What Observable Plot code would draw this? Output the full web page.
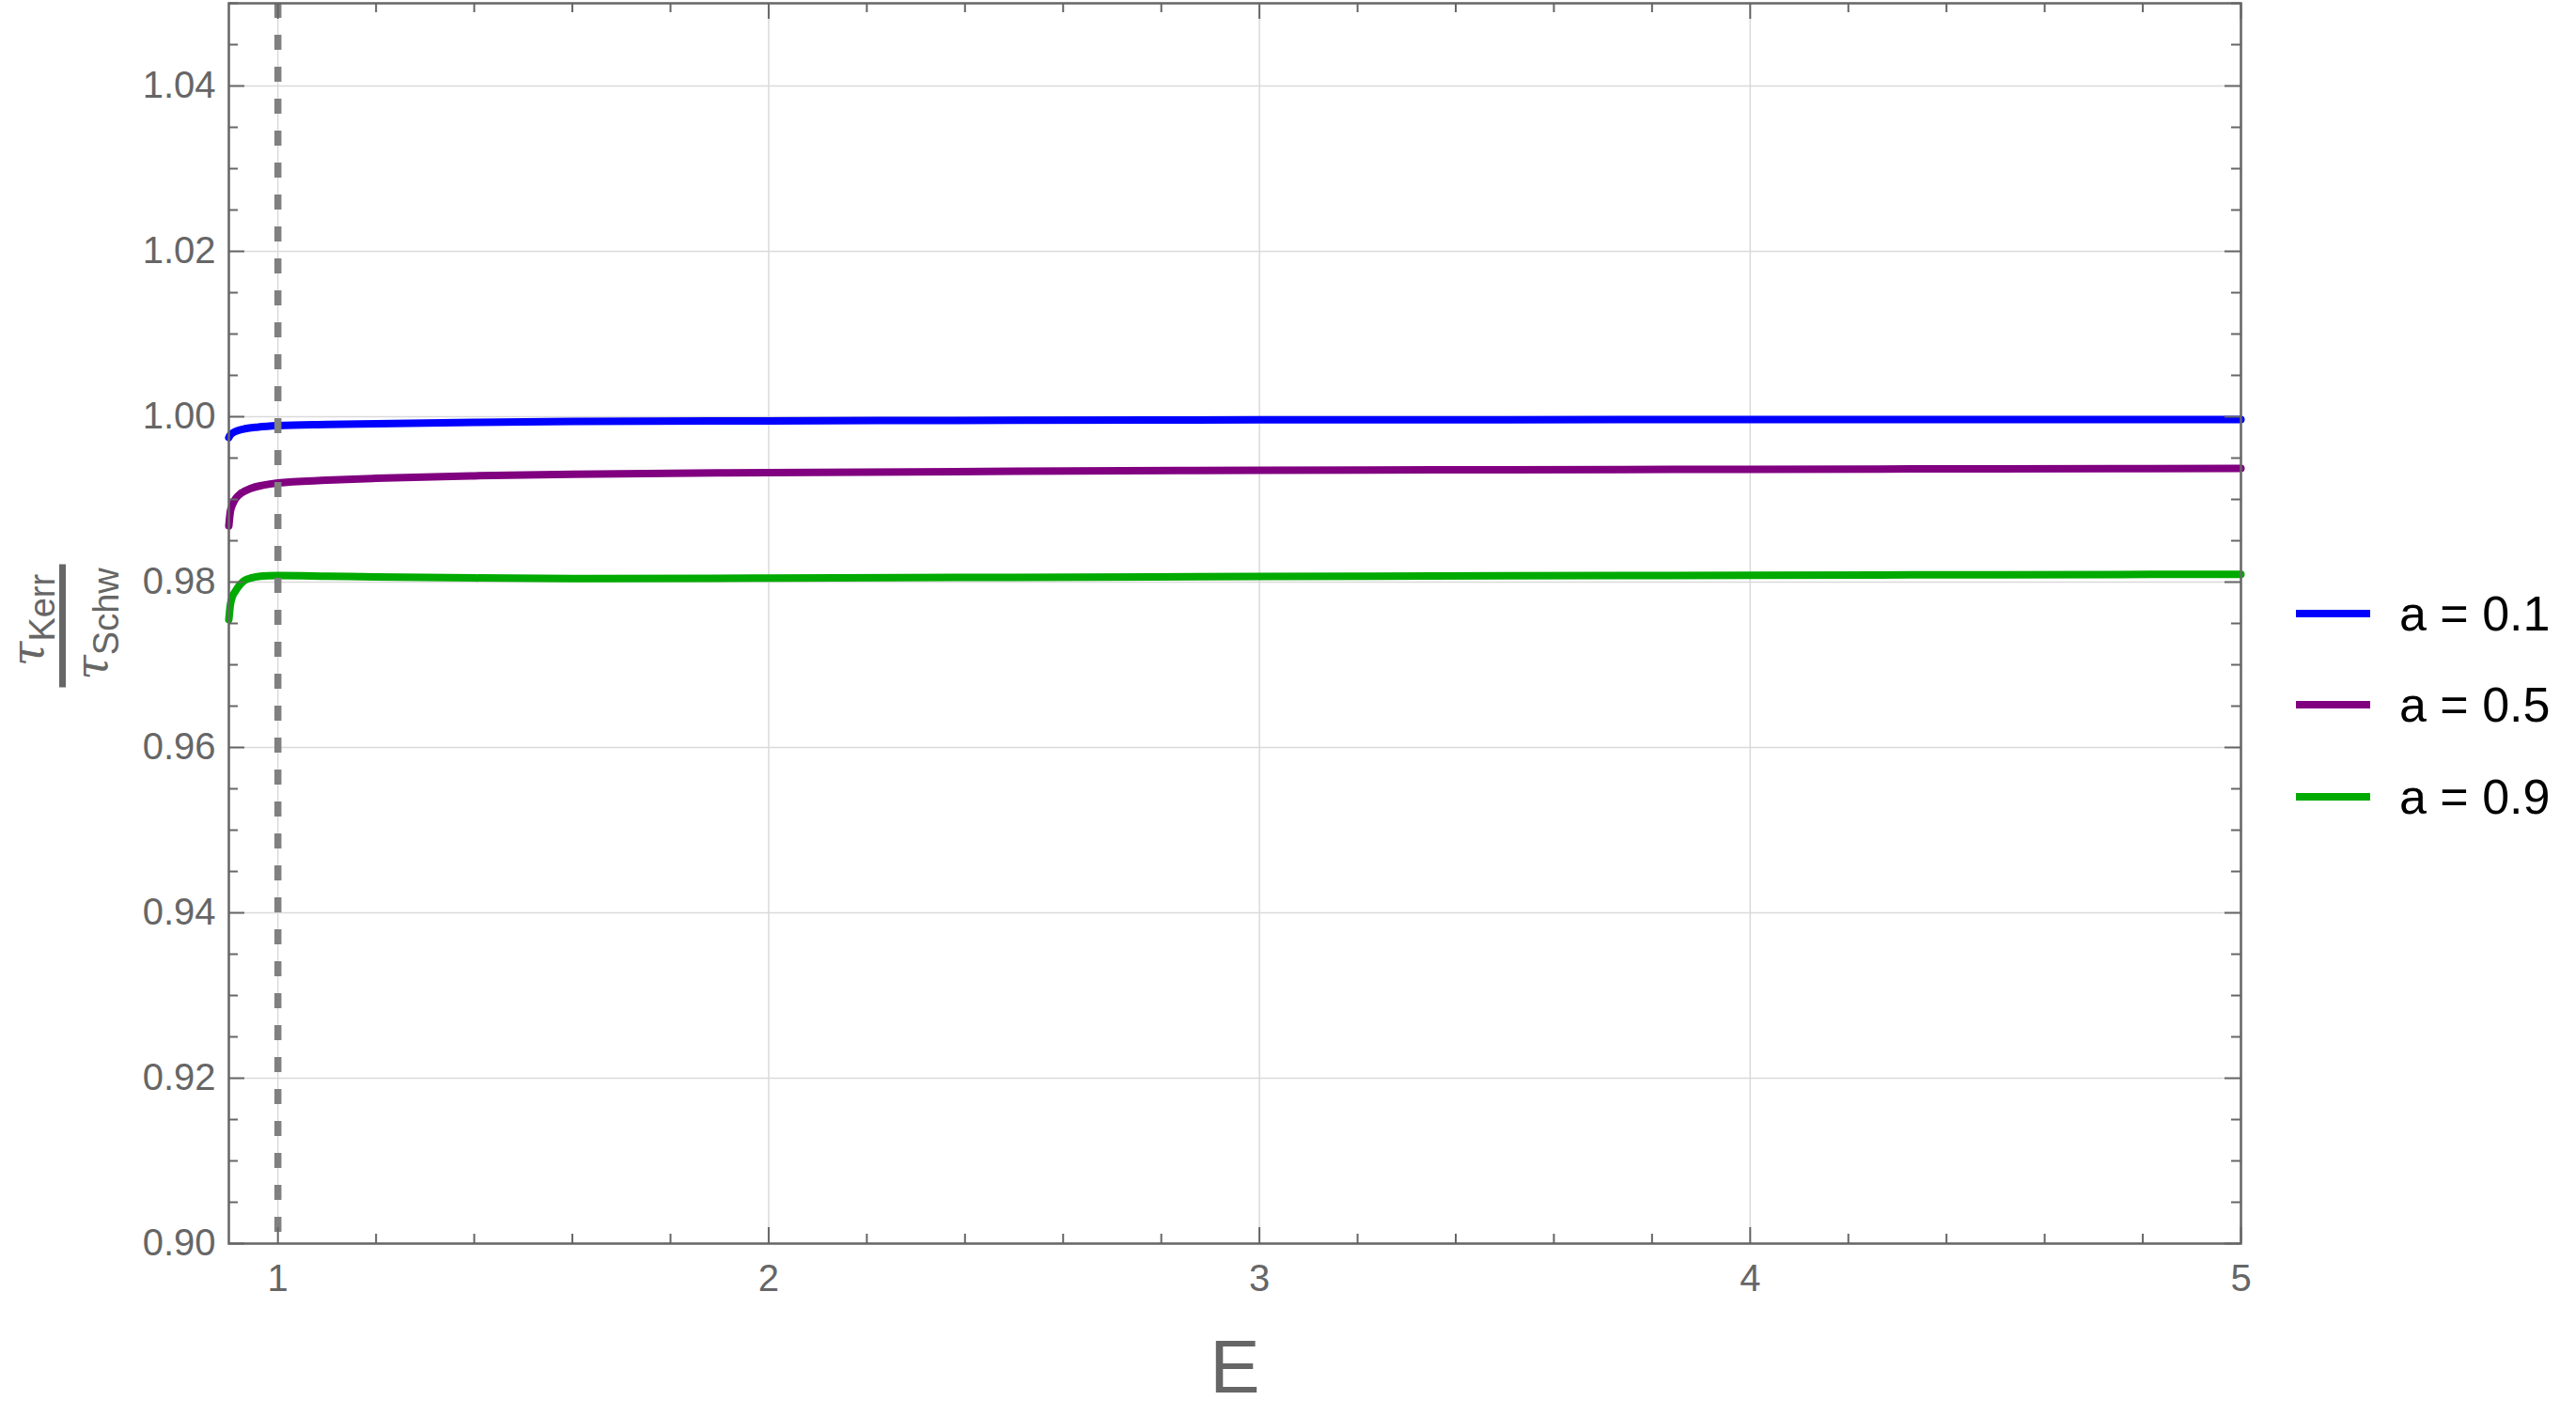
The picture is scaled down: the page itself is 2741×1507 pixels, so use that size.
<!DOCTYPE html>
<html>
<head>
<meta charset="utf-8">
<script src="https://cdn.jsdelivr.net/npm/d3@7"></script>
<script src="https://cdn.jsdelivr.net/npm/@observablehq/plot@0.6"></script>
<style>
  html, body { margin: 0; padding: 0; background: #fff; }
  #wrap { position: relative; width: 2741px; height: 1507px; font-family: "Liberation Sans", Arial, sans-serif; }
  #legend { position: absolute; left: 2443px; top: 604px; }
  #legend .row { display: flex; align-items: center; height: 97.5px; }
  #legend .sw { width: 79px; height: 8px; margin-right: 31px; }
  #legend .lt { font-size: 52px; color: #000; white-space: pre; }
</style>
</head>
<body>
<div id="wrap"></div>
<script>
// ---- data ----
const seriesLabels = ["a = 0.1", "a = 0.5", "a = 0.9"];
const seriesColors = ["#0000ff", "#800080", "#00aa00"];

const E_a01 = [0.9, 0.903, 0.907, 0.915, 0.933, 0.96, 1.0, 1.1, 1.2, 1.4, 1.6, 2.0, 2.5, 3.0, 3.5, 4.0, 4.5, 5.0];
const tau_a01 = [0.99747, 0.99780, 0.99800, 0.99825, 0.99855, 0.99875, 0.99891, 0.99905, 0.99915, 0.99932, 0.99943, 0.99950, 0.99957, 0.99962, 0.99964, 0.99965, 0.99966, 0.99967];

const E_a05 = [0.9, 0.903, 0.907, 0.913, 0.925, 0.945, 0.97, 1.0, 1.1, 1.2, 1.4, 1.6, 2.0, 2.5, 3.0, 3.5, 4.0, 4.5, 5.0];
const tau_a05 = [0.98680, 0.98850, 0.98930, 0.99002, 0.99075, 0.99134, 0.99172, 0.99199, 0.99232, 0.99255, 0.99285, 0.99305, 0.99325, 0.99340, 0.99352, 0.99359, 0.99365, 0.99370, 0.99375];

const E_a09 = [0.9, 0.903, 0.907, 0.913, 0.922, 0.932, 0.945, 0.9645, 0.98, 1.0, 1.1, 1.2, 1.4, 1.6, 2.0, 2.5, 3.0, 3.5, 4.0, 4.5, 5.0];
const tau_a09 = [0.97546, 0.97720, 0.97820, 0.97886, 0.97965, 0.98019, 0.98050, 0.98072, 0.98078, 0.98080, 0.98072, 0.98062, 0.98050, 0.98044, 0.98048, 0.98058, 0.98068, 0.98076, 0.98083, 0.98089, 0.98095];

const xMajorTicks = [1, 2, 3, 4, 5];
const yMajorTicks = [0.90, 0.92, 0.94, 0.96, 0.98, 1.00, 1.02, 1.04];
const xTickLabels = ["1", "2", "3", "4", "5"];
const yTickLabels = ["0.90", "0.92", "0.94", "0.96", "0.98", "1.00", "1.02", "1.04"];
const markerE = [1];
const xAxisLabel = "E";
const yLabelSymbol = "τ";
const yLabelNum = "Kerr";
const yLabelDen = "Schw";

// minor ticks (positions between majors)
const xMinorTicks = d3.range(1.2, 5.0, 0.2).map(v => +v.toFixed(1)).filter(v => !Number.isInteger(v));
const yMinorTicks = d3.range(0.905, 1.05, 0.005).map(v => +v.toFixed(3)).filter(v => Math.round(v * 1000) % 20 !== 0);

// ---- layout ----
const W = 2741, H = 1507;
const mL = 243, mR = W - 2384, mT = 3, mB = H - 1323;
const innerW = W - mL - mR, innerH = H - mT - mB;
const grey = "#666666";

const toRows = (xs, ys) => xs.map((x, i) => ({E: x, r: ys[i]}));
const series = [toRows(E_a01, tau_a01), toRows(E_a05, tau_a05), toRows(E_a09, tau_a09)];

const chart = Plot.plot({
  width: W, height: H,
  marginLeft: mL, marginRight: mR, marginTop: mT, marginBottom: mB,
  style: {fontFamily: "'Liberation Sans', Arial, sans-serif", background: "#fff", overflow: "visible"},
  x: {domain: [0.9, 5], axis: null},
  y: {domain: [0.9, 1.05], axis: null},
  marks: [
    Plot.gridX(xMajorTicks, {stroke: "#dadada", strokeOpacity: 1, strokeWidth: 1.5}),
    Plot.gridY(yMajorTicks, {stroke: "#dadada", strokeOpacity: 1, strokeWidth: 1.5}),
    ...series.map((s, i) => Plot.line(s, {x: "E", y: "r", stroke: seriesColors[i], strokeWidth: 8, curve: "monotone-x"})),
    Plot.ruleX(markerE, {stroke: "#808080", strokeWidth: 7.5, strokeDasharray: "16,18"}),
    // inward ticks, Mathematica style
    Plot.tickY(yMajorTicks, {y: d => d, stroke: grey, strokeWidth: 2, insetRight: innerW - 17}),
    Plot.tickY(yMajorTicks, {y: d => d, stroke: grey, strokeWidth: 2, insetLeft: innerW - 17}),
    Plot.tickY(yMinorTicks, {y: d => d, stroke: grey, strokeWidth: 2, insetRight: innerW - 10}),
    Plot.tickY(yMinorTicks, {y: d => d, stroke: grey, strokeWidth: 2, insetLeft: innerW - 10}),
    Plot.tickX(xMajorTicks, {x: d => d, stroke: grey, strokeWidth: 2, insetTop: innerH - 17}),
    Plot.tickX(xMajorTicks, {x: d => d, stroke: grey, strokeWidth: 2, insetBottom: innerH - 17}),
    Plot.tickX(xMinorTicks, {x: d => d, stroke: grey, strokeWidth: 2, insetTop: innerH - 10}),
    Plot.tickX(xMinorTicks, {x: d => d, stroke: grey, strokeWidth: 2, insetBottom: innerH - 10}),
    Plot.frame({stroke: grey, strokeWidth: 2.5}),
    Plot.axisX({ticks: xMajorTicks, tickFormat: d => xTickLabels[xMajorTicks.indexOf(d)], tickSize: 0, tickPadding: 22, fontSize: 40, fill: grey, label: null}),
    Plot.axisY({ticks: yMajorTicks, tickFormat: d => yTickLabels[yMajorTicks.findIndex(v => Math.abs(v - d) < 1e-9)], tickSize: 0, tickPadding: 14, fontSize: 40, fill: grey, label: null}),
    Plot.text([xAxisLabel], {text: d => d, frameAnchor: "bottom", lineAnchor: "top", dy: 102, fontSize: 80, fill: grey})
  ]
});

const wrap = document.getElementById("wrap");
wrap.appendChild(chart);

// y-axis label: fraction tau_Kerr / tau_Schw, rotated, centred on the frame
const svg = d3.select(chart);
const yMid = mT + innerH / 2 + 3;
const g = svg.append("g").attr("transform", `translate(0,${yMid}) rotate(-90)`).attr("fill", grey);
function fracLine(base, sub, yBase, xShift) {
  const t = g.append("text").attr("x", xShift).attr("y", yBase).attr("text-anchor", "middle");
  t.append("tspan").attr("font-family", "'DejaVu Serif', serif").attr("font-style", "italic").attr("font-size", 48).text(base);
  t.append("tspan").attr("font-family", "'Liberation Sans', Arial, sans-serif").attr("font-size", 38).attr("dy", 12).text(sub);
}
fracLine(yLabelSymbol, yLabelNum, 46, 6);
g.append("rect").attr("x", -65.5).attr("y", 63).attr("width", 131).attr("height", 7);
fracLine(yLabelSymbol, yLabelDen, 114, 2);

// legend
const legend = document.createElement("div");
legend.id = "legend";
seriesLabels.forEach((lab, i) => {
  const row = document.createElement("div");
  row.className = "row";
  row.innerHTML = `<div class="sw" style="background:${seriesColors[i]}"></div><div class="lt">${lab}</div>`;
  legend.appendChild(row);
});
wrap.appendChild(legend);
</script>
</body>
</html>
